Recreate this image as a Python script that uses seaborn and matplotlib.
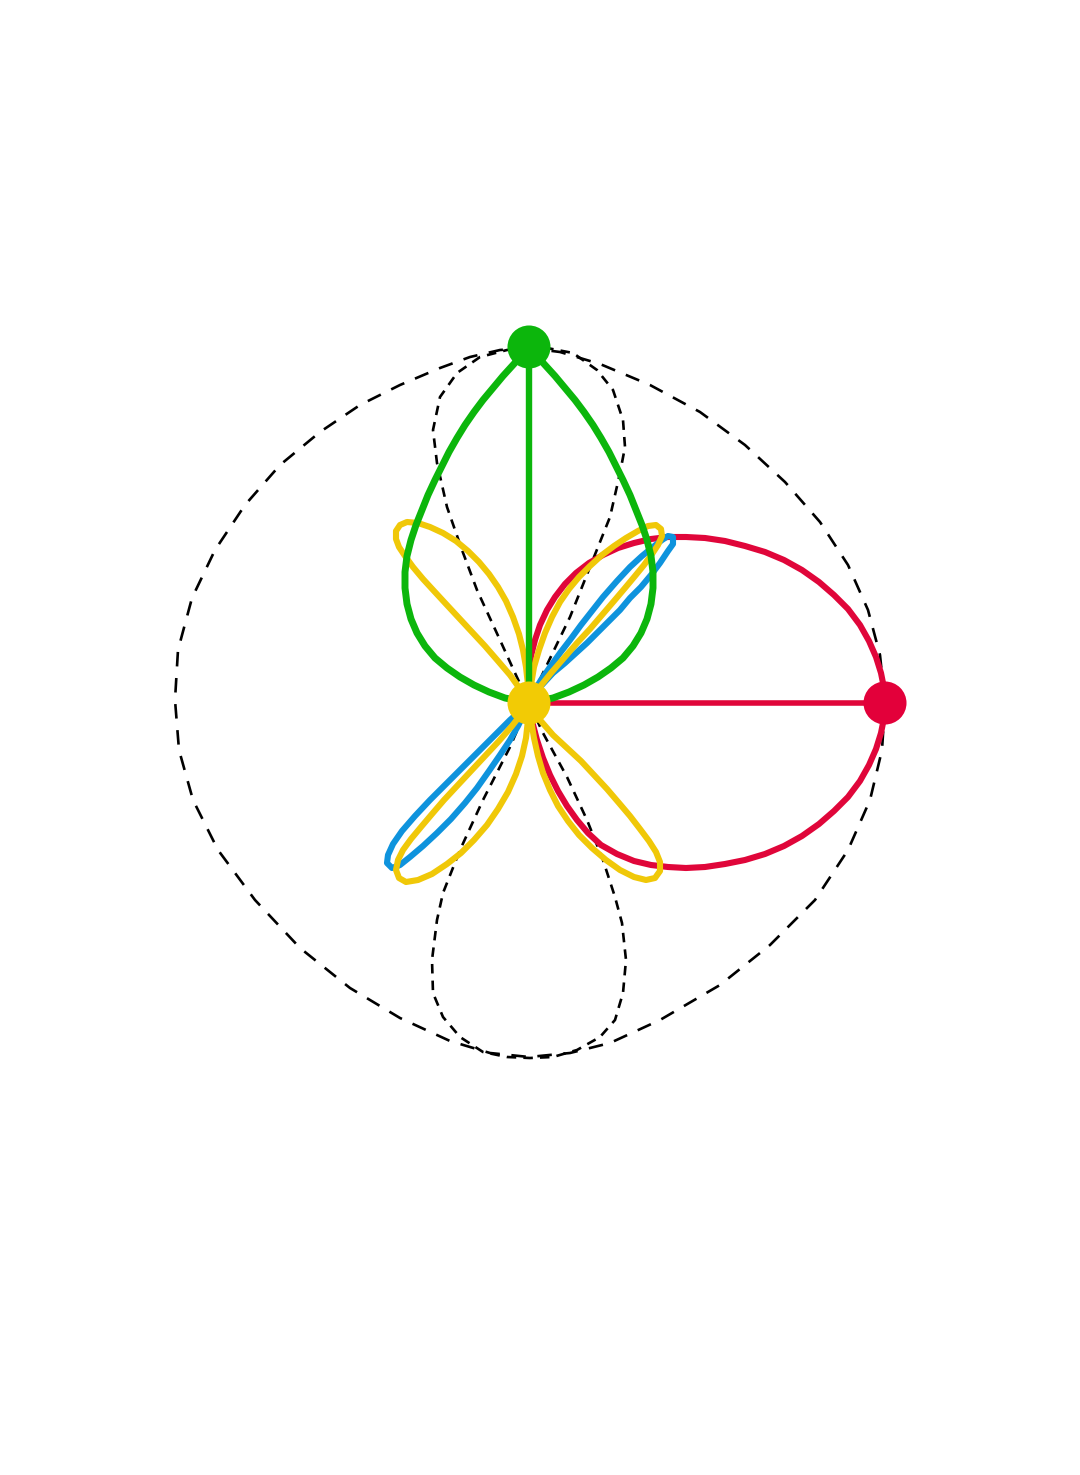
import pandas as pd
import matplotlib
matplotlib.use("Agg")
import matplotlib.pyplot as plt
import seaborn as sns

# curve coordinates (centre of the pattern = 0,0)
green_x = [0, -7, -16, -26, -36, -46, -55, -64, -72, -80, -87, -94, -101, -107, -113, -118, -122, -124,
           -124, -122, -118, -112, -104, -94, -82, -69, -55, -40, -24, -9, 0,
           9, 24, 40, 55, 69, 82, 94, 104, 112, 118, 122, 124, 124, 122, 118, 113, 107, 101, 94,
           87, 80, 72, 64, 55, 46, 36, 26, 16, 7, 0]
green_y = [356, 348, 338, 327, 315, 303, 291, 278, 265, 251, 237, 223, 208, 193, 178, 163, 147, 131,
           115, 99, 84, 70, 57, 45, 35, 26, 18, 11, 5, 2, 0,
           2, 5, 11, 18, 26, 35, 45, 57, 70, 84, 99, 115, 131, 147, 163, 178, 193, 208, 223,
           237, 251, 265, 278, 291, 303, 315, 327, 338, 348, 356]

red_x = [0, -1, 0, 2, 6, 11, 18, 26, 36, 47, 60, 74, 89, 105, 122, 139, 157, 176, 196, 216, 236,
         255, 273, 290, 305, 319, 331, 340, 347, 352, 355, 356,
         355, 352, 347, 340, 331, 319, 305, 290, 273, 255, 236, 216, 196, 176, 157, 139, 122, 105,
         88, 72, 59, 48, 38, 29, 21, 14, 8, 3, 0]
red_y = [0, 15, 31, 47, 63, 78, 93, 106, 119, 130, 140, 148, 155, 160, 164, 166, 166, 165, 162, 157, 151,
         143, 133, 121, 108, 94, 78, 62, 46, 30, 15, 0,
         -15, -30, -46, -62, -78, -94, -108, -121, -133, -143, -151, -157, -161, -164, -165, -164, -162, -158,
         -151, -142, -130, -117, -103, -88, -72, -55, -37, -18, 0]

# four-leaf curve: upper-left, upper-right, lower-right, lower-left leaf
yellow_x = [0, -1, -3, -6, -10, -16, -23, -31, -40, -50, -61, -73, -86, -99, -111, -122, -129, -133,
            -133, -130, -124, -116, -106, -95, -83, -70, -57, -44, -31, -19, -9, 0,
            2, 5, 10, 16, 23, 31, 40, 50, 61, 73, 85, 97, 109, 119, 127, 132, 133, 129, 123,
            115, 106, 96, 85, 73, 61, 48, 35, 22, 10, 0,
            2, 5, 9, 14, 21, 29, 39, 50, 63, 77, 91, 105, 117, 126, 131, 131, 127, 120, 111,
            101, 90, 78, 65, 52, 38, 24, 11, 0,
            -1, -3, -7, -13, -21, -31, -42, -55, -68, -82, -97, -111, -123, -130, -133, -131,
            -126, -118, -108, -97, -85, -72, -58, -44, -30, -17, -7, 0]
yellow_y = [0, 18, 36, 53, 69, 86, 102, 116, 129, 141, 152, 162, 170, 176, 180, 181, 178, 172,
            164, 156, 147, 136, 124, 112, 99, 85, 71, 57, 42, 28, 14, 0,
            18, 36, 53, 70, 86, 101, 114, 126, 137, 148, 157, 165, 172, 177, 178, 174, 167, 158, 149,
            138, 127, 115, 102, 88, 74, 60, 45, 30, 15, 0,
            -17, -35, -53, -70, -87, -103, -118, -132, -145, -157, -167, -174, -177, -175, -168, -159, -149, -138, -126,
            -113, -100, -86, -72, -58, -45, -32, -17, 0,
            -17, -35, -53, -71, -89, -106, -122, -137, -150, -161, -171, -177, -179, -175, -167, -157,
            -147, -136, -124, -111, -97, -83, -68, -53, -38, -23, -10, 0]

blue_x = [0, 4, 12, 21, 31, 41, 52, 63, 74, 88, 101, 113, 124, 133, 139, 144, 144, 139, 131, 122,
          112, 101, 91, 80, 69, 58, 47, 36, 24, 12, 0,
          -10, -19, -32, -46, -59, -72, -86, -99, -114, -127, -136, -141, -142, -137, -129, -119, -106,
          -92, -78, -64, -52, -40, -29, -19, -11, -5, 0]
blue_y = [0, 10, 23, 36, 50, 63, 78, 92, 106, 122, 136, 147, 156, 163, 167, 166, 159, 152, 140, 128,
          116, 105, 93, 82, 71, 60, 50, 40, 30, 17, 0,
          -9, -17, -30, -44, -57, -70, -84, -97, -113, -128, -141, -152, -160, -165, -162, -154, -143,
          -130, -116, -100, -85, -68, -52, -37, -23, -11, 0]

outer_x = [0, -29, -59, -89, -129, -169, -209, -249, -284, -314, -337, -351, -354, -350, -336, -311,
           -274, -229, -179, -129, -79, -39, 0, 41, 81, 131, 191, 241, 286, 319, 341, 353, 356,
           351, 339, 319, 291, 256, 216, 171, 121, 71, 31, 0]
outer_y = [355, 353, 346, 335, 318, 298, 271, 238, 198, 153, 105, 53, 3, -47, -97, -147,
           -197, -245, -285, -315, -338, -350, -354, -350, -340, -317, -282, -242, -197, -147, -97, -47, 0,
           48, 93, 138, 181, 221, 258, 291, 318, 339, 351, 355]

inner_x = [0, -22, -49, -72, -89, -96, -92, -82, -67, -52, -29, -14, 0, 14, 38, 58, 74, 86, 93, 97,
           94, 86, 71, 48, 24, 1, -22, -46, -69, -86, -96, -97, -92, -86, -69, -46, -19, 0,
           14, 41, 61, 81, 91, 96, 94, 84, 68, 44, 18, 0]
inner_y = [355, 353, 346, 330, 306, 273, 240, 196, 153, 113, 63, 30, 0, -30, -74, -117, -157, -194, -220, -257,
           -290, -317, -334, -347, -354, -355, -354, -349, -334, -314, -290, -257, -217, -190, -147, -97, -44, 0,
           30, 86, 136, 186, 230, 256, 283, 313, 333, 350, 355, 355]

ball_x = [0, 356, 0]
ball_y = [356, 0, 0]
ball_colors = ["#0CB60C", "#E3003A", "#F2CB05"]

GREEN = "#0CB60C"
RED = "#E0063A"
YELLOW = "#F0C808"
BLUE = "#0E93DD"

sns.set_theme(style="white")
fig = plt.figure(figsize=(10.8, 14.75), dpi=100)
ax = fig.add_axes([0, 0, 1, 1])


def curve(x, y, color, lw, z, ls="-"):
    df = pd.DataFrame({"x": x, "y": y})
    sns.lineplot(data=df, x="x", y="y", sort=False, estimator=None, color=color,
                 linewidth=lw, linestyle=ls, ax=ax, zorder=z,
                 solid_joinstyle="round", solid_capstyle="round")


# dashed envelopes
curve(outer_x, outer_y, "black", 1.9, 1, ls=(0, (5.5, 4.4)))
curve(inner_x, inner_y, "black", 1.9, 1, ls=(0, (3.6, 2.7)))

# coloured lobes
curve(red_x, red_y, RED, 4.4, 2)
curve([0, ball_x[1]], [0, ball_y[1]], RED, 4.0, 2)
curve(blue_x, blue_y, BLUE, 4.4, 3)
curve(yellow_x, yellow_y, YELLOW, 4.4, 4)
curve(green_x, green_y, GREEN, 5.0, 5)
curve([0, ball_x[0]], [0, ball_y[0]], GREEN, 4.6, 5)

ax.scatter(ball_x, ball_y, s=960, c=ball_colors, zorder=10, linewidths=0)

ax.set_xlim(-529, 551)
ax.set_ylim(-772, 703)
ax.axis("off")
fig.savefig("out.png", dpi=100, facecolor="white")
